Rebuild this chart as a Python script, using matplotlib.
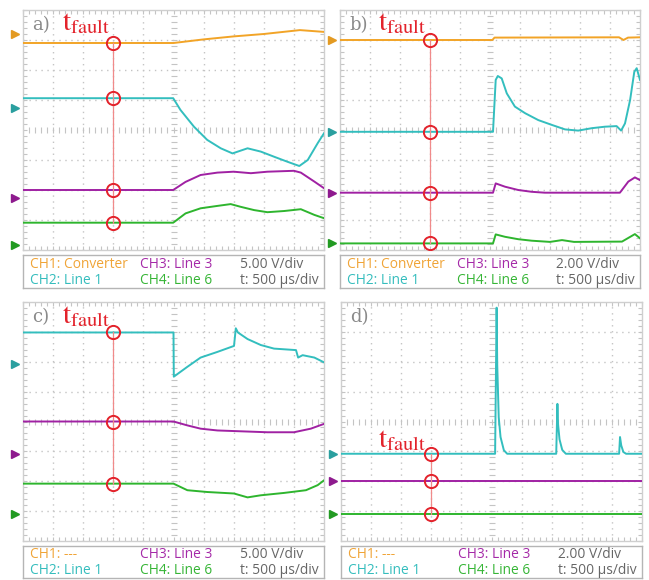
import matplotlib.pyplot as plt
import numpy as np

plt.rcParams['mathtext.fontset'] = 'stix'

W, H = 649, 580

ORANGE = '#F2A427'
CYAN = '#33BEBE'
PURPLE = '#A021A3'
GREEN = '#2EB52E'
RED = '#E3222B'
GRID = '#c4c4c4'

# ---- panel a) 5 V/div ----
a_conv_x = [0, 5.0, 6.0, 7.0, 8.0, 9.2, 10]
a_conv_y = [6.9, 6.9, 7.02, 7.12, 7.2, 7.33, 7.27]
a_l1_x = [0, 4.99, 5.23, 5.68, 6.12, 6.57, 6.96, 7.46, 7.9, 8.34, 8.79, 9.18, 9.46, 9.79, 10]
a_l1_y = [5.06, 5.06, 4.67, 4.11, 3.67, 3.39, 3.22, 3.39, 3.28, 3.11, 2.94, 2.8, 3.0, 3.56, 3.89]
a_l3_x = [0, 4.99, 5.4, 5.9, 6.46, 7.0, 7.57, 8.12, 9.0, 9.23, 9.68, 10]
a_l3_y = [2.0, 2.0, 2.27, 2.5, 2.58, 2.61, 2.56, 2.61, 2.64, 2.58, 2.28, 2.06]
a_l6_x = [0, 4.99, 5.4, 5.9, 6.46, 6.9, 7.23, 7.68, 8.12, 8.68, 9.23, 9.68, 10]
a_l6_y = [0.91, 0.91, 1.22, 1.39, 1.47, 1.53, 1.44, 1.33, 1.26, 1.3, 1.36, 1.17, 1.06]
a_refs = [7.2, 4.73, 1.73, 0.17]

# ---- panel b) 2 V/div ----
b_conv_x = [0, 5.08, 5.15, 9.3, 9.45, 9.6, 10]
b_conv_y = [7.0, 7.0, 7.08, 7.09, 7.0, 7.08, 7.09]
b_l1_x = [0, 5.1, 5.19, 5.26, 5.39, 5.56, 5.83, 6.17, 6.61, 7.06, 7.5, 7.94, 8.39, 8.83,
          9.22, 9.37, 9.5, 9.67, 9.81, 9.89, 10]
b_l1_y = [3.94, 3.94, 5.67, 5.8, 5.72, 5.22, 4.78, 4.56, 4.33, 4.17, 4.02, 3.98, 4.06, 4.11,
          4.13, 3.98, 4.22, 5.0, 5.94, 6.06, 5.67]
b_l3_x = [0, 5.1, 5.19, 5.5, 5.94, 6.39, 6.83, 9.33, 9.61, 9.83, 10]
b_l3_y = [1.91, 1.91, 2.22, 2.11, 2.0, 1.94, 1.91, 1.91, 2.28, 2.42, 2.33]
b_l6_x = [0, 5.1, 5.19, 5.5, 5.94, 6.39, 7.0, 7.4, 7.8, 9.4, 9.83, 10]
b_l6_y = [0.22, 0.22, 0.52, 0.44, 0.36, 0.31, 0.27, 0.33, 0.27, 0.28, 0.53, 0.39]
b_refs = [7.0, 3.94, 1.91, 0.22]

# ---- panel c) 5 V/div, converter off ----
c_l1_x = [0, 5.0, 5.01, 5.46, 5.9, 6.46, 7.01, 7.07, 7.14, 7.46, 7.9, 8.34, 9.07, 9.14,
          9.29, 9.68, 10]
c_l1_y = [6.98, 6.98, 5.5, 5.83, 6.14, 6.33, 6.53, 7.12, 6.98, 6.76, 6.56, 6.44, 6.39, 6.14,
          6.22, 6.14, 5.98]
c_l3_x = [0, 5.0, 5.46, 5.9, 6.46, 8.12, 9.0, 9.56, 10]
c_l3_y = [4.0, 4.0, 3.87, 3.76, 3.7, 3.64, 3.64, 3.76, 3.92]
c_l6_x = [0, 5.0, 5.46, 6.12, 7.01, 7.46, 7.9, 8.68, 9.4, 9.79, 10]
c_l6_y = [1.92, 1.92, 1.7, 1.64, 1.59, 1.46, 1.53, 1.61, 1.7, 1.87, 2.03]
c_refs = [None, 5.94, 2.92, 0.9]

# ---- panel d) 2 V/div, converter off ----
d_l1_x = [0, 5.12, 5.17, 5.19, 5.24, 5.3, 5.41, 5.52,
          7.15, 7.19, 7.21, 7.26, 7.35, 7.47,
          9.24, 9.27, 9.31, 9.38, 9.47, 10]
d_l1_y = [2.92, 2.92, 7.81, 5.92, 4.14, 3.48, 3.04, 2.92,
          2.92, 4.59, 3.92, 3.4, 3.05, 2.92,
          2.92, 3.48, 3.2, 2.98, 2.92, 2.92]
d_l3_x = [0, 10]
d_l3_y = [2.01, 2.01]
d_l6_x = [0, 10]
d_l6_y = [0.92, 0.92]
d_refs = [None, 2.92, 2.01, 0.92]

T_FAULT = 3.0

fig = plt.figure(figsize=(W / 100, H / 100), dpi=100)


def px_axes(x0, y0, x1, y1):
    return fig.add_axes([x0 / W, 1 - y1 / H, (x1 - x0) / W, (y1 - y0) / H])


def scope_grid(ax):
    ax.set_xlim(0, 10)
    ax.set_ylim(0, 8)
    for i in range(1, 10):
        if i != 5:
            ax.axvline(i, color=GRID, lw=1.0, ls=(0, (1, 3.3)), zorder=0)
    for j in range(1, 8):
        if j != 4:
            ax.axhline(j, color=GRID, lw=1.0, ls=(0, (1, 3.3)), zorder=0)
    # centre cross with fine ticks
    ticks = np.arange(0, 10.01, 0.2)
    ax.plot(ticks, np.full_like(ticks, 4.0), ls='none', marker='|', ms=4,
            mec=GRID, mew=0.8, zorder=0)
    ticks = np.arange(0, 8.01, 0.2)
    ax.plot(np.full_like(ticks, 5.0), ticks, ls='none', marker='_', ms=4,
            mec=GRID, mew=0.8, zorder=0)
    ax.set_xticks(np.arange(0, 10.01, 0.2))
    ax.set_yticks(np.arange(0, 8.01, 0.2))
    ax.tick_params(direction='in', length=3, width=0.8, color=GRID,
                   top=True, right=True, labelbottom=False, labelleft=False)
    for s in ax.spines.values():
        s.set_color('#cfcfcf')
        s.set_linewidth(1.0)


def panel(ax, letter, traces, refs, tx, ty):
    scope_grid(ax)
    colors = [ORANGE, CYAN, PURPLE, GREEN]
    arrow_cols = ['#E39A22', '#2A9F9F', '#8E1A8E', '#229A22']
    levels = []
    for (x, y), c, ac, r in zip(traces, colors, arrow_cols, refs):
        if x is None:
            continue
        ax.plot(x, y, color=c, lw=1.4, zorder=3)
        levels.append(np.interp(T_FAULT, x, y))
        ax.plot([-0.27], [r], marker='>', ms=6, color=ac, clip_on=False, zorder=4)
    ax.plot([T_FAULT, T_FAULT], [min(levels), max(levels)], color='#F08A8A',
            lw=0.9, zorder=4)
    ax.plot([T_FAULT] * len(levels), levels, ls='none', marker='o', ms=9.5,
            mfc='none', mec=RED, mew=1.4, zorder=5)
    ax.text(0.3, 7.33, letter, family='DejaVu Serif', fontsize=13,
            color='#8a8a8a', va='baseline', zorder=6)
    ax.text(tx, ty, r'$\mathrm{t}_{\mathrm{fault}}$', fontsize=21, color=RED,
            va='baseline', zorder=6)


def legend_box(ax, ch1, vdiv):
    ax.set_xlim(0, 1)
    ax.set_ylim(0, 1)
    ax.set_xticks([])
    ax.set_yticks([])
    for s in ax.spines.values():
        s.set_color('#b5b5b5')
        s.set_linewidth(1.0)
    kw = dict(family='Open Sans', fontsize=9.9, va='center')
    ax.text(0.023, 0.72, ch1, color='#F0A437', **kw)
    ax.text(0.023, 0.24, 'CH2: Line 1', color='#35BDBD', **kw)
    ax.text(0.39, 0.72, 'CH3: Line 3', color='#A52AA8', **kw)
    ax.text(0.39, 0.24, 'CH4: Line 6', color='#36B536', **kw)
    ax.text(0.72, 0.72, vdiv, color='#666666', **kw)
    ax.text(0.72, 0.24, 't: 500 µs/div', color='#666666', **kw)


ax_a = px_axes(23, 10, 324, 250)
panel(ax_a, 'a)', [(a_conv_x, a_conv_y), (a_l1_x, a_l1_y), (a_l3_x, a_l3_y), (a_l6_x, a_l6_y)],
      a_refs, 1.3, 7.33)
legend_box(px_axes(23, 255, 324, 288), 'CH1: Converter', '5.00 V/div')

ax_b = px_axes(340, 10, 640, 250)
panel(ax_b, 'b)', [(b_conv_x, b_conv_y), (b_l1_x, b_l1_y), (b_l3_x, b_l3_y), (b_l6_x, b_l6_y)],
      b_refs, 1.27, 7.33)
legend_box(px_axes(340, 255, 640, 288), 'CH1: Converter', '2.00 V/div')

ax_c = px_axes(23, 302, 324, 541)
panel(ax_c, 'c)', [(None, None), (c_l1_x, c_l1_y), (c_l3_x, c_l3_y), (c_l6_x, c_l6_y)],
      c_refs, 1.3, 7.3)
legend_box(px_axes(23, 546, 324, 578), 'CH1: ---', '5.00 V/div')

ax_d = px_axes(341, 302, 642, 541)
panel(ax_d, 'd)', [(None, None), (d_l1_x, d_l1_y), (d_l3_x, d_l3_y), (d_l6_x, d_l6_y)],
      d_refs, 1.23, 3.13)
legend_box(px_axes(341, 546, 642, 578), 'CH1: ---', '2.00 V/div')

fig.savefig('out.png', dpi=100, facecolor='white')
